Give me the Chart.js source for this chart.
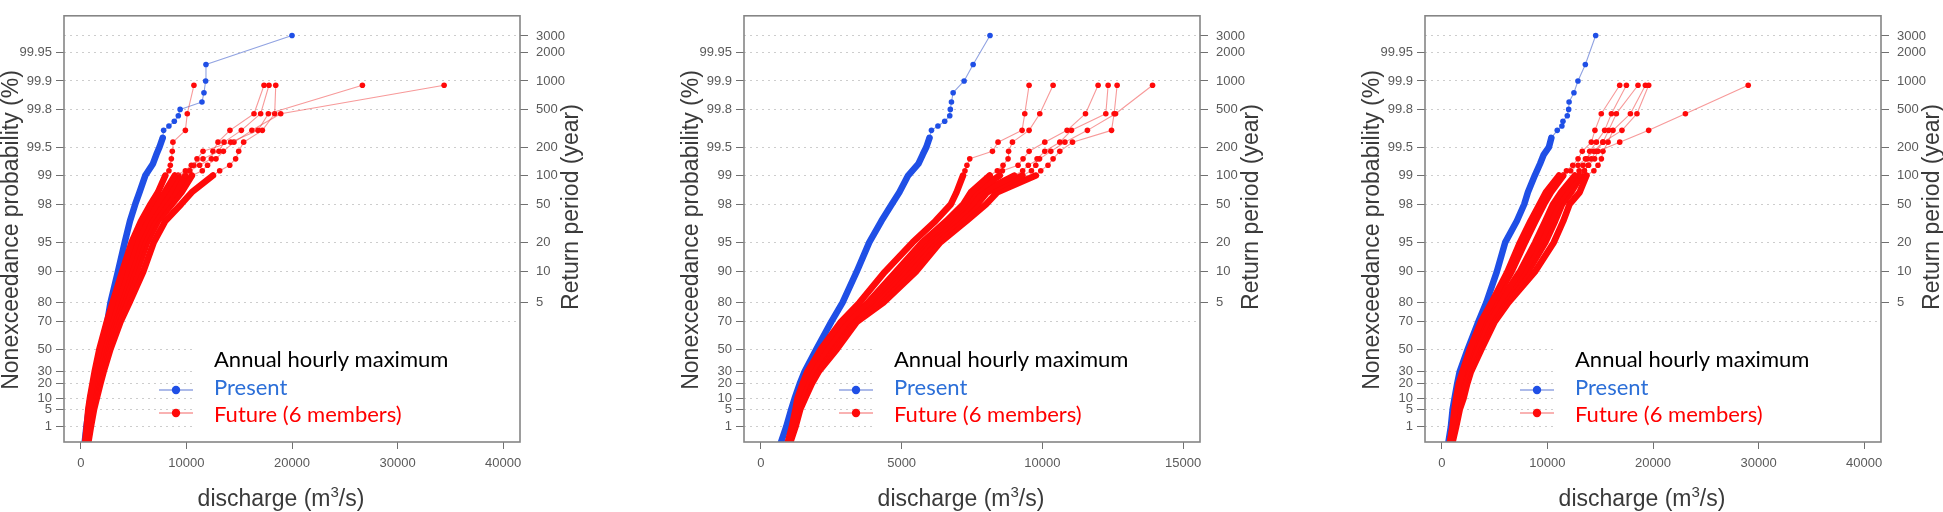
<!DOCTYPE html>
<html>
<head>
<meta charset="utf-8">
<script src="https://cdn.jsdelivr.net/npm/chart.js@4.4.0/dist/chart.umd.min.js"></script>
<style>
  body { margin: 0; background: #fff; width: 1943px; height: 512px; overflow: hidden; position: relative; }
  .panel { position: absolute; top: 0; }
</style>
</head>
<body>
<script>
// Nonexceedance probabilities (%) of the plotted points (Gumbel plotting positions)
const presentProb = [0.1, 1, 5, 10, 20, 30, 50, 70, 80, 90, 95, 97, 98, 98.5, 99, 99.25, 99.4, 99.5, 99.6,
                     99.667, 99.7, 99.733, 99.767, 99.8, 99.833, 99.867, 99.9, 99.933, 99.967];
const futureProb = [0.11, 1, 5, 10, 20, 30, 50, 70, 80, 90, 95, 97, 98, 98.5,
                    99.001, 99.112, 99.223, 99.334, 99.445, 99.556, 99.667, 99.778, 99.889];

// Axis ticks
const probTicks = [1, 5, 10, 20, 30, 50, 70, 80, 90, 95, 98, 99, 99.5, 99.8, 99.9, 99.95];
const periodTicks = [5, 10, 20, 50, 100, 200, 500, 1000, 2000, 3000];
const xTicksWide = [0, 10000, 20000, 30000, 40000];
const xTicksNarrow = [0, 5000, 10000, 15000];

// Left panel: discharge (m3/s)
const presentQ1 = [350, 520, 750, 900, 1180, 1380, 1850, 2500, 2800, 3500, 4150, 4650, 5150, 5550, 6100, 6830, 7150,
                   7450, 7750, 7840, 8340, 8850, 9230, 9400, 11470, 11660, 11820, 11850, 20000];
const futureQ1 = [
  [400, 550, 700, 850, 1100, 1300, 1750, 2450, 3000, 3900, 4800, 5700, 6600, 7300, 8000, 8340, 8470, 8570, 8660, 8720, 9900, 10080, 10710],
  [460, 630, 810, 980, 1250, 1470, 1960, 2710, 3320, 4300, 5220, 6160, 7180, 7940, 8900, 9900, 10460, 11570, 13080, 13560, 15200, 17030, 17820],
  [505, 690, 890, 1080, 1365, 1600, 2120, 2905, 3560, 4600, 5535, 6505, 7615, 8420, 9230, 10300, 11250, 12360, 12510, 12990, 14120, 16400, 17350],
  [550, 750, 975, 1175, 1475, 1725, 2275, 3100, 3800, 4900, 5850, 6850, 8050, 8900, 9900, 10300, 10700, 11000, 11570, 14190, 16780, 17760, 26670],
  [610, 830, 1085, 1305, 1625, 1895, 2485, 3360, 4120, 5300, 6270, 7310, 8630, 9540, 10520, 11500, 12000, 12800, 13500, 14500, 16200, 18930, 34410],
  [700, 950, 1250, 1500, 1850, 2150, 2800, 3750, 4600, 5900, 6900, 8000, 9500, 10500, 12510, 13150, 14100, 14660, 14950, 15420, 17190, 18360, 18460]
];

// Middle panel
const presentQ2 = [700, 900, 1080, 1200, 1380, 1550, 1970, 2500, 2900, 3400, 3850, 4280, 4650, 4920, 5230, 5600, 5750,
                   5880, 5990, 6060, 6290, 6530, 6710, 6730, 6770, 6830, 7220, 7540, 8140];
const futureQ2 = [
  [950, 1100, 1230, 1300, 1480, 1650, 2130, 2840, 3500, 4400, 5390, 6200, 6750, 6950, 7181, 7250, 7320, 7420, 8226, 8425, 9279, 9375, 9528],
  [970, 1145, 1290, 1395, 1595, 1790, 2330, 3040, 3800, 4790, 5730, 6590, 7190, 7460, 8130, 8400, 8603, 8781, 8800, 8937, 9528, 9908, 10381],
  [990, 1160, 1305, 1420, 1630, 1830, 2390, 3100, 3880, 4900, 5830, 6700, 7310, 7600, 8485, 8580, 9136, 9314, 9528, 10086, 10878, 11532, 11980],
  [1000, 1180, 1330, 1460, 1680, 1890, 2470, 3180, 4010, 5060, 5980, 6860, 7500, 7820, 9000, 9300, 9500, 9900, 10300, 10800, 11600, 12600, 13914],
  [1020, 1200, 1355, 1500, 1730, 1950, 2560, 3270, 4140, 5230, 6120, 7030, 7690, 8040, 9292, 9612, 9766, 9812, 10086, 10619, 11034, 12254, 12336],
  [1040, 1230, 1400, 1570, 1810, 2050, 2700, 3410, 4350, 5500, 6370, 7300, 8000, 8400, 9766, 9943, 10200, 10381, 10619, 11070, 12457, 12549, 12656]
];

// Right panel
const presentQ3 = [600, 850, 1020, 1200, 1450, 1680, 2450, 3450, 4200, 5200, 6000, 7100, 7800, 8150, 8800, 9300, 9650,
                   10140, 10370, 10930, 11370, 11470, 11880, 12010, 12050, 12510, 12890, 13590, 14570];
const futureQ3 = [
  [750, 1000, 1200, 1350, 1600, 1950, 2650, 3700, 4700, 6200, 7400, 8400, 9250, 9850, 11100, 11800, 12400, 12900, 13300, 14160, 14500, 15100, 16845],
  [790, 1050, 1275, 1455, 1720, 2070, 2815, 3895, 4940, 6590, 7880, 8865, 9680, 10330, 11500, 12200, 12900, 13600, 14380, 15260, 17060, 18480, 19590],
  [860, 1160, 1425, 1665, 1960, 2310, 3145, 4285, 5420, 7370, 8840, 9795, 10530, 11290, 12600, 13000, 13370, 13780, 14000, 14640, 15420, 16060, 17480],
  [900, 1210, 1500, 1770, 2080, 2430, 3310, 4480, 5660, 7760, 9320, 10260, 10960, 11770, 13000, 13500, 13900, 14470, 14790, 16845, 19590, 23070, 29020],
  [940, 1260, 1575, 1875, 2200, 2550, 3475, 4675, 5900, 8150, 9800, 10725, 11390, 12250, 13200, 13500, 13840, 14160, 14600, 15260, 15800, 16530, 18580],
  [1000, 1350, 1700, 2050, 2400, 2750, 3750, 5000, 6300, 8800, 10600, 11500, 12100, 13050, 13700, 14400, 14790, 15110, 15260, 15740, 16210, 17860, 19280]
];

// Gumbel reduced variate, used as the vertical scale
const gumbel = p => -Math.log(-Math.log(p / 100));
const Y_MIN = -1.898, Y_MAX = 8.497;

const BLUE = '#1f4fe6', BLUE_FAINT = 'rgba(70,100,205,0.6)';
const RED = '#ff0a0a', RED_FAINT = 'rgba(240,70,70,0.55)';
const tickFont = { family: '"Liberation Sans", Arial, sans-serif', size: 13 };
const TICK_COLOR = '#5a5a5a';

function seriesDataset(q, prob, denseTop, solid, faint, order) {
  return {
    data: q.map((v, i) => ({ x: v, y: gumbel(prob[i]) })),
    showLine: true,
    order: order,
    borderColor: solid,
    borderWidth: 1,
    borderCapStyle: 'round',
    borderJoinStyle: 'round',
    pointRadius: ctx => (prob[ctx.dataIndex] >= denseTop ? 2.8 : 0),
    pointBackgroundColor: solid,
    pointBorderWidth: 0,
    segment: {
      borderWidth: ctx => (prob[ctx.p1DataIndex] <= denseTop ? 6.5 : 1.1),
      borderColor: ctx => (prob[ctx.p1DataIndex] <= denseTop ? solid : faint)
    }
  };
}

// Frame, legend box, axis titles and legend
const decor = {
  id: 'decor',
  beforeDatasetsDraw(chart) {
    const { ctx, chartArea: a } = chart;
    ctx.save();
    ctx.fillStyle = '#fff';
    ctx.fillRect(192, 330, a.right - 193, a.bottom - 331);
    ctx.restore();
  },
  afterDraw(chart) {
    const { ctx, chartArea: a } = chart;
    ctx.save();
    ctx.strokeStyle = '#858585';
    ctx.lineWidth = 1.6;
    ctx.strokeRect(a.left, a.top, a.right - a.left, a.bottom - a.top);

    // axis titles
    ctx.fillStyle = '#3a3a3a';
    ctx.font = '23px "Liberation Sans", Arial, sans-serif';
    ctx.textAlign = 'center';
    ctx.textBaseline = 'alphabetic';
    ctx.save();
    ctx.translate(18, 230);
    ctx.rotate(-Math.PI / 2);
    ctx.fillText('Nonexceedance probability (%)', 0, 0);
    ctx.restore();
    ctx.save();
    ctx.translate(578, 207);
    ctx.rotate(-Math.PI / 2);
    ctx.fillText('Return period (year)', 0, 0);
    ctx.restore();

    const supFont = '15px "Liberation Sans", Arial, sans-serif';
    const mainFont = '23px "Liberation Sans", Arial, sans-serif';
    ctx.textAlign = 'left';
    ctx.font = mainFont;
    const wa = ctx.measureText('discharge (m').width;
    const wb = ctx.measureText('/s)').width;
    ctx.font = supFont;
    const ws = ctx.measureText('3').width;
    let x0 = 281 - (wa + ws + wb) / 2;
    ctx.font = mainFont;
    ctx.fillText('discharge (m', x0, 506);
    ctx.font = supFont;
    ctx.fillText('3', x0 + wa, 497);
    ctx.font = mainFont;
    ctx.fillText('/s)', x0 + wa + ws, 506);

    // legend
    ctx.font = '22px Lato, "Open Sans", sans-serif';
    ctx.fillStyle = '#000';
    ctx.fillText('Annual hourly maximum', 214, 367);
    const rows = [
      { y: 390, text: 'Present', y0: 394.5, solid: BLUE, faint: BLUE_FAINT, color: '#2c6fd8' },
      { y: 413, text: 'Future (6 members)', y0: 421.5, solid: RED, faint: RED_FAINT, color: '#ff0000' }
    ];
    rows.forEach(r => {
      ctx.strokeStyle = r.faint;
      ctx.lineWidth = 1.5;
      ctx.beginPath();
      ctx.moveTo(159, r.y);
      ctx.lineTo(193, r.y);
      ctx.stroke();
      ctx.fillStyle = r.solid;
      ctx.beginPath();
      ctx.arc(176, r.y, 4.2, 0, Math.PI * 2);
      ctx.fill();
      ctx.fillStyle = r.color;
      ctx.fillText(r.text, 214, r.y0);
    });
    ctx.restore();
  }
};

const panels = [
  { left: 0, xMin: -1600, xMax: 41600, xTicks: xTicksWide, present: presentQ1, future: futureQ1 },
  { left: 680, xMin: -600, xMax: 15600, xTicks: xTicksNarrow, present: presentQ2, future: futureQ2 },
  { left: 1361, xMin: -1600, xMax: 41600, xTicks: xTicksWide, present: presentQ3, future: futureQ3 }
];

const W = 590, H = 512;

panels.forEach(pn => {
  const div = document.createElement('div');
  div.className = 'panel';
  div.style.left = pn.left + 'px';
  const canvas = document.createElement('canvas');
  canvas.width = W;
  canvas.height = H;
  div.appendChild(canvas);
  document.body.appendChild(div);

  const datasets = [seriesDataset(pn.present, presentProb, 99.6, BLUE, BLUE_FAINT, 1)];
  pn.future.forEach(m => datasets.push(seriesDataset(m, futureProb, 99.001, RED, RED_FAINT, 0)));

  new Chart(canvas, {
    type: 'scatter',
    data: { datasets },
    plugins: [decor],
    options: {
      responsive: false,
      animation: false,
      events: [],
      layout: { padding: { top: 1, left: 0, right: 0, bottom: 0 } },
      plugins: { legend: { display: false }, tooltip: { enabled: false } },
      scales: {
        x: {
          type: 'linear',
          min: pn.xMin,
          max: pn.xMax,
          afterBuildTicks: s => { s.ticks = pn.xTicks.map(v => ({ value: v })); },
          afterFit: s => { s.height = 70; },
          grid: { drawOnChartArea: false, drawTicks: true, tickLength: 7, color: '#707070' },
          border: { display: false },
          ticks: { font: tickFont, color: TICK_COLOR, padding: 7, maxRotation: 0, autoSkip: false,
                   callback: v => String(v) }
        },
        y: {
          type: 'linear',
          position: 'left',
          min: Y_MIN,
          max: Y_MAX,
          afterBuildTicks: s => { s.ticks = probTicks.map(p => ({ value: gumbel(p) })); },
          afterFit: s => { s.width = 64; },
          grid: { color: '#cdcdcd', tickColor: '#707070', tickLength: 8 },
          border: { display: false, dash: [2, 4] },
          ticks: { font: tickFont, color: TICK_COLOR, padding: 4, autoSkip: false,
                   callback: (v, i) => String(probTicks[i]) }
        },
        y2: {
          type: 'linear',
          position: 'right',
          min: Y_MIN,
          max: Y_MAX,
          afterBuildTicks: s => { s.ticks = periodTicks.map(t => ({ value: gumbel(100 - 100 / t) })); },
          afterFit: s => { s.width = W - 520; },
          grid: { color: c => (c.index === periodTicks.length - 1 ? '#cdcdcd' : 'rgba(0,0,0,0)'),
                  tickColor: '#707070', tickLength: 8 },
          border: { display: false, dash: [2, 4] },
          ticks: { font: tickFont, color: TICK_COLOR, padding: 8, autoSkip: false,
                   callback: (v, i) => String(periodTicks[i]) }
        }
      }
    }
  });
});
</script>
</body>
</html>
